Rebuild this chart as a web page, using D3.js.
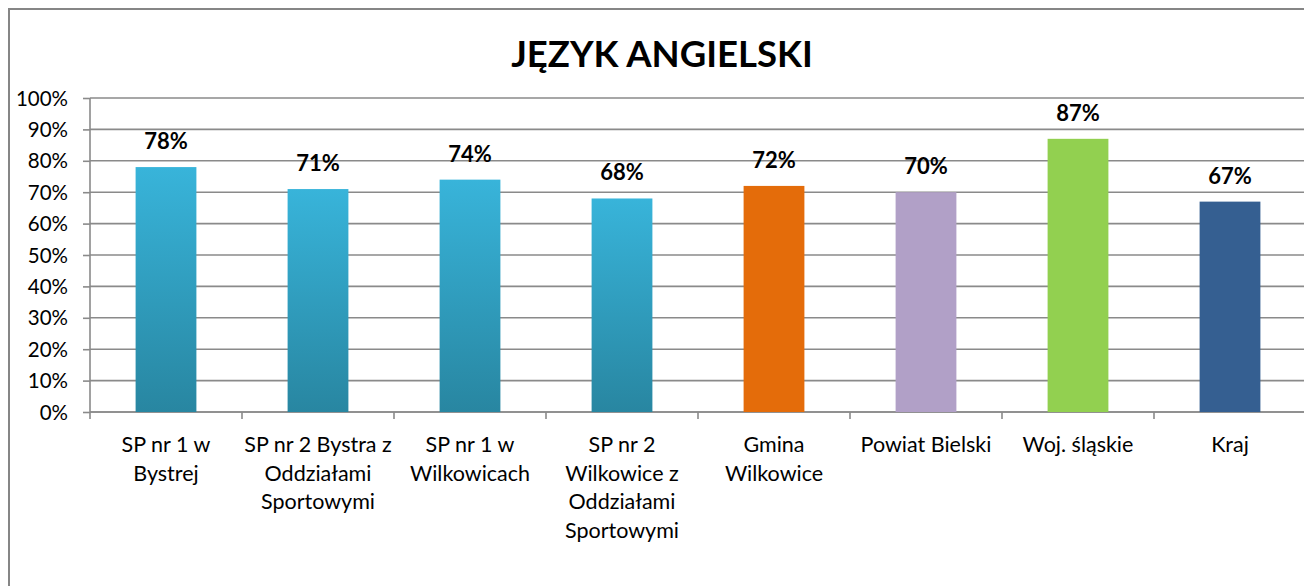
<!DOCTYPE html>
<head>
    <meta charset="utf-8"/>
    <script src="https://d3js.org/d3.v7.min.js"></script>
    <style>
        body { margin: 0; background: #fff; }
        text { font-family: Lato, "Open Sans", sans-serif; fill: #000; }
    </style>
</head>
<body>
    <svg id="chart" width="1304" height="586"></svg>
    <script>
        // data
        let categories = [
            "SP nr 1 w\nBystrej",
            "SP nr 2 Bystra z\nOddziałami\nSportowymi",
            "SP nr 1 w\nWilkowicach",
            "SP nr 2\nWilkowice z\nOddziałami\nSportowymi",
            "Gmina\nWilkowice",
            "Powiat Bielski",
            "Woj. śląskie",
            "Kraj"
        ];
        let values = [78, 71, 74, 68, 72, 70, 87, 67];
        let barColors = ["grad", "grad", "grad", "grad", "#e46c0a", "#b1a0c7", "#92d050", "#355f91"];
        let yTicks = [0, 10, 20, 30, 40, 50, 60, 70, 80, 90, 100];
        let title = "JĘZYK ANGIELSKI";

        let svg = d3.select("svg#chart");

        // gradient for the school bars
        let grad = svg.append("defs").append("linearGradient")
            .attr("id", "blueGrad")
            .attr("x1", 0).attr("y1", 0).attr("x2", 0).attr("y2", 1);
        grad.append("stop").attr("offset", "0%").attr("stop-color", "#38b4da");
        grad.append("stop").attr("offset", "100%").attr("stop-color", "#2886a1");

        // outer border
        svg.append("rect")
            .attr("x", 9).attr("y", 9)
            .attr("width", 1320).attr("height", 600)
            .style("fill", "none")
            .style("stroke", "#868686")
            .style("stroke-width", 2);

        let xScale = d3.scaleBand().domain(categories).range([90, 1306])
            .paddingInner(0.6).paddingOuter(0.3);
        let yScale = d3.scaleLinear().domain([0, 100]).range([412, 98]);

        // gridlines
        yTicks.forEach(function(t) {
            svg.append("line")
                .attr("x1", 90)
                .attr("x2", 1306)
                .attr("y1", yScale(t))
                .attr("y2", yScale(t))
                .style("stroke", "#8a8a8a")
                .style("stroke-width", 1.6);
        });

        // y axis
        let yAxis = svg.append("g")
            .attr("transform", "translate(90,0)")
            .call(d3.axisLeft(yScale).tickValues(yTicks).tickSize(7).tickPadding(15)
                .tickFormat(d => d + "%"));
        yAxis.selectAll("path, line").style("stroke", "#8a8a8a").style("stroke-width", 1.6);
        yAxis.select(".domain").attr("d", "M0,412V98");
        yAxis.selectAll("text")
            .style("font-family", "Lato, sans-serif")
            .style("font-size", "20.5px")
            .attr("dy", "0.35em");

        // x axis with ticks at band boundaries
        let step = xScale.step();
        svg.append("line")
            .attr("x1", 90).attr("x2", 1306)
            .attr("y1", 412).attr("y2", 412)
            .style("stroke", "#8a8a8a")
            .style("stroke-width", 1.6);
        for (let i = 0; i <= categories.length; i++) {
            svg.append("line")
                .attr("x1", 90 + i * step)
                .attr("x2", 90 + i * step)
                .attr("y1", 412)
                .attr("y2", 419)
                .style("stroke", "#8a8a8a")
                .style("stroke-width", 1.6);
        }

        // bars
        categories.forEach(function(c, i) {
            svg.append("rect")
                .attr("x", xScale(c))
                .attr("y", yScale(values[i]))
                .attr("width", xScale.bandwidth())
                .attr("height", yScale(0) - yScale(values[i]))
                .style("fill", barColors[i] == "grad" ? "url(#blueGrad)" : barColors[i]);

            svg.append("text")
                .text(values[i] + "%")
                .attr("x", xScale(c) + xScale.bandwidth() / 2)
                .attr("y", yScale(values[i]) - 18)
                .attr("text-anchor", "middle")
                .style("font-weight", "bold")
                .style("font-size", "22px");

            let lbl = svg.append("text")
                .attr("text-anchor", "middle")
                .style("font-size", "21.5px");
            c.split("\n").forEach(function(line, j) {
                lbl.append("tspan")
                    .attr("x", xScale(c) + xScale.bandwidth() / 2)
                    .attr("y", 452 + j * 28.7)
                    .text(line);
            });
        });

        // title
        svg.append("text")
            .text(title)
            .attr("x", 662)
            .attr("y", 67)
            .attr("text-anchor", "middle")
            .style("font-weight", "bold")
            .style("font-size", "36.5px");
    </script>
</body>
